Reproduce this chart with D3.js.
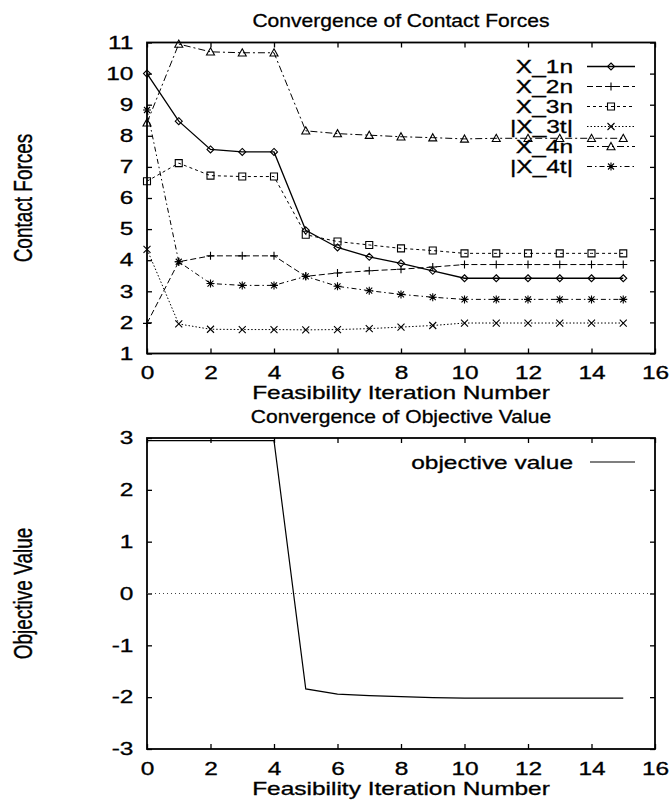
<!DOCTYPE html>
<html>
<head>
<meta charset="utf-8">
<script src="https://cdn.jsdelivr.net/npm/d3@7"></script>
<style>
  html, body { margin: 0; padding: 0; background: #fff; }
  svg { display: block; }
  text { font-family: "Liberation Sans", Arial, Helvetica, sans-serif; fill: #000; stroke: #000; stroke-width: 0.3px; }
</style>
</head>
<body>
<div id="chart"></div>
<script>
// ---------------- data ----------------
const iterations = [0,1,2,3,4,5,6,7,8,9,10,11,12,13,14,15];
const X_1n = [10.0, 8.47, 7.56, 7.48, 7.48, 4.96, 4.41, 4.11, 3.90, 3.66, 3.42, 3.42, 3.42, 3.42, 3.42, 3.42];
const X_2n = [1.97, 3.95, 4.14, 4.14, 4.14, 3.48, 3.59, 3.66, 3.71, 3.78, 3.86, 3.86, 3.86, 3.86, 3.86, 3.86];
const X_3n = [6.54, 7.12, 6.72, 6.69, 6.69, 4.82, 4.60, 4.49, 4.38, 4.31, 4.22, 4.22, 4.22, 4.22, 4.22, 4.22];
const X_3t = [4.35, 1.95, 1.78, 1.77, 1.77, 1.76, 1.77, 1.80, 1.85, 1.90, 1.98, 1.98, 1.98, 1.98, 1.98, 1.98];
const X_4n = [8.42, 10.95, 10.70, 10.67, 10.67, 8.16, 8.07, 8.02, 7.97, 7.94, 7.90, 7.92, 7.92, 7.92, 7.92, 7.92];
const X_4t = [8.83, 3.95, 3.25, 3.19, 3.19, 3.48, 3.16, 3.02, 2.90, 2.81, 2.74, 2.74, 2.74, 2.74, 2.74, 2.74];
const objective = [2.95, 2.95, 2.95, 2.95, 2.95, -1.84, -1.94, -1.97, -1.99, -2.01, -2.02, -2.02, -2.02, -2.02, -2.02, -2.02];

const seriesNames = ["X_1n", "X_2n", "X_3n", "|X_3t|", "X_4n", "|X_4t|"];
const seriesValues = [X_1n, X_2n, X_3n, X_3t, X_4n, X_4t];
const seriesMarkers = ["diamond", "plus", "square", "cross", "triangle", "star"];
const seriesDash = [null, "6,3", "3,3", "1.5,2", "7,3,2,3", "5,3,1.5,3"];

const xTicks = [0,2,4,6,8,10,12,14,16];
const yTicksTop = [1,2,3,4,5,6,7,8,9,10,11];
const yTicksBot = [-3,-2,-1,0,1,2,3];

const titleTop = "Convergence of Contact Forces";
const titleBot = "Convergence of Objective Value";
const xLabel = "Feasibility Iteration Number";
const yLabelTop = "Contact Forces";
const yLabelBot = "Objective Value";
const legendBot = "objective value";

// ---------------- layout ----------------
const W = 671, H = 800;
const SX = 1.36;      // horizontal stretch of the scanned lettering
const SXT = 1.17;     // titles are set a little narrower
const FS = 18;

const svg = d3.select("#chart").append("svg").attr("width", W).attr("height", H);

const x = d3.scaleLinear().domain([0,16]).range([147,655]);
const yTop = d3.scaleLinear().domain([1,11]).range([353.5,42.5]);
const yBot = d3.scaleLinear().domain([-3,3]).range([749,438]);

const fmt = d => String(d);   // plain hyphen-minus like the original

function stext(px, py, str, anchor, size, rotate, sx) {
  return svg.append("text")
    .attr("transform", `translate(${px},${py}) scale(${sx || SX},1)` + (rotate ? ` rotate(${rotate})` : ""))
    .attr("text-anchor", anchor)
    .attr("font-size", size)
    .text(str);
}

function markerPath(type, s) {
  const h = s / 2;
  switch (type) {
    case "diamond": return `M0,${-h}L${h},0L0,${h}L${-h},0Z`;
    case "plus": return `M${-h},0L${h},0M0,${-h}L0,${h}`;
    case "square": return `M${-h},${-h}L${h},${-h}L${h},${h}L${-h},${h}Z`;
    case "cross": return `M${-h},${-h}L${h},${h}M${-h},${h}L${h},${-h}`;
    case "triangle": return `M0,${-h}L${h},${h*0.8}L${-h},${h*0.8}Z`;
    case "star": return `M${-h},0L${h},0M0,${-h}L0,${h}M${-h*0.75},${-h*0.75}L${h*0.75},${h*0.75}M${-h*0.75},${h*0.75}L${h*0.75},${-h*0.75}`;
  }
}
const markerSize = {diamond: 7, plus: 8, square: 7, cross: 7, triangle: 8, star: 8};

function drawPanel(y, yTicks) {
  const [x0, x1] = x.range();
  const [yb, yt] = y.range();
  const gb = svg.append("g").attr("transform", `translate(0,${yb})`)
    .call(d3.axisBottom(x).tickValues(xTicks).tickSize(-5).tickPadding(13).tickFormat(fmt));
  const gt = svg.append("g").attr("transform", `translate(0,${yt})`)
    .call(d3.axisTop(x).tickValues(xTicks).tickSize(-5).tickFormat(""));
  const gl = svg.append("g").attr("transform", `translate(${x0},0)`)
    .call(d3.axisLeft(y).tickValues(yTicks).tickSize(-5).tickPadding(10).tickFormat(fmt));
  const gr = svg.append("g").attr("transform", `translate(${x1},0)`)
    .call(d3.axisRight(y).tickValues(yTicks).tickSize(-5).tickFormat(""));
  [gb, gt, gl, gr].forEach(g => {
    g.select(".domain").remove();
    g.selectAll(".tick line").attr("stroke", "#000").attr("stroke-width", 1.3);
    g.selectAll("text")
      .attr("font-size", FS)
      .attr("font-family", "'Liberation Sans', Arial, Helvetica, sans-serif")
      .attr("fill", "#000");
  });
  gb.selectAll("text").attr("transform", `scale(${SX},1)`);
  gl.selectAll("text").attr("transform", `scale(${SX},1)`);
  svg.append("rect").attr("x", x0).attr("y", yt).attr("width", x1 - x0).attr("height", yb - yt)
    .attr("fill", "none").attr("stroke", "#000").attr("stroke-width", 1.8);
}

// ---------------- top panel ----------------
drawPanel(yTop, yTicksTop);

seriesValues.forEach((vals, i) => {
  const line = d3.line().x((d, j) => x(iterations[j])).y(d => yTop(d));
  svg.append("path").datum(vals)
    .attr("d", line)
    .attr("fill", "none")
    .attr("stroke", "#000")
    .attr("stroke-width", i === 0 ? 1.3 : 1)
    .attr("stroke-dasharray", seriesDash[i]);
  const m = seriesMarkers[i];
  svg.append("g").selectAll("path").data(vals).join("path")
    .attr("transform", (d, j) => `translate(${x(iterations[j])},${yTop(d)})`)
    .attr("d", markerPath(m, markerSize[m]))
    .attr("fill", "none")
    .attr("stroke", "#000")
    .attr("stroke-width", 1.1);
});

const legX = 573, legLine0 = 587, legLine1 = 635, legY0 = 66.5, legDY = 20;
seriesNames.forEach((name, i) => {
  const ly = legY0 + i * legDY;
  stext(legX, ly + 6.5, name, "end", FS);
  svg.append("line").attr("x1", legLine0).attr("x2", legLine1).attr("y1", ly).attr("y2", ly)
    .attr("stroke", "#000").attr("stroke-width", i === 0 ? 1.3 : 1)
    .attr("stroke-dasharray", seriesDash[i]);
  const m = seriesMarkers[i];
  svg.append("path").attr("transform", `translate(${(legLine0 + legLine1) / 2},${ly})`)
    .attr("d", markerPath(m, markerSize[m]))
    .attr("fill", "none").attr("stroke", "#000").attr("stroke-width", 1.1);
});

const cx = (x.range()[0] + x.range()[1]) / 2;
stext(cx, 27, titleTop, "middle", FS, null, SXT);
stext(cx, yTop.range()[0] + 45.5, xLabel, "middle", FS);
stext(32, (yTop.range()[0] + yTop.range()[1]) / 2, yLabelTop, "middle", 19, -90);

// ---------------- bottom panel ----------------
drawPanel(yBot, yTicksBot);

svg.append("line").attr("x1", x.range()[0]).attr("x2", x.range()[1])
  .attr("y1", yBot(0)).attr("y2", yBot(0))
  .attr("stroke", "#444").attr("stroke-width", 1).attr("stroke-dasharray", "1,3");

svg.append("path").datum(objective)
  .attr("d", d3.line().x((d, j) => x(iterations[j])).y(d => yBot(d)))
  .attr("fill", "none").attr("stroke", "#000").attr("stroke-width", 1.2);

stext(legX, yBot.range()[1] + 24 + 6.5, legendBot, "end", FS);
svg.append("line").attr("x1", legLine0 + 3).attr("x2", legLine1).attr("y1", yBot.range()[1] + 24).attr("y2", yBot.range()[1] + 24)
  .attr("stroke", "#000").attr("stroke-width", 1.2);

stext(cx, 423, titleBot, "middle", FS, null, SXT);
stext(cx, yBot.range()[0] + 45.5, xLabel, "middle", FS);
stext(32, (yBot.range()[0] + yBot.range()[1]) / 2, yLabelBot, "middle", 19, -90);
</script>
</body>
</html>
